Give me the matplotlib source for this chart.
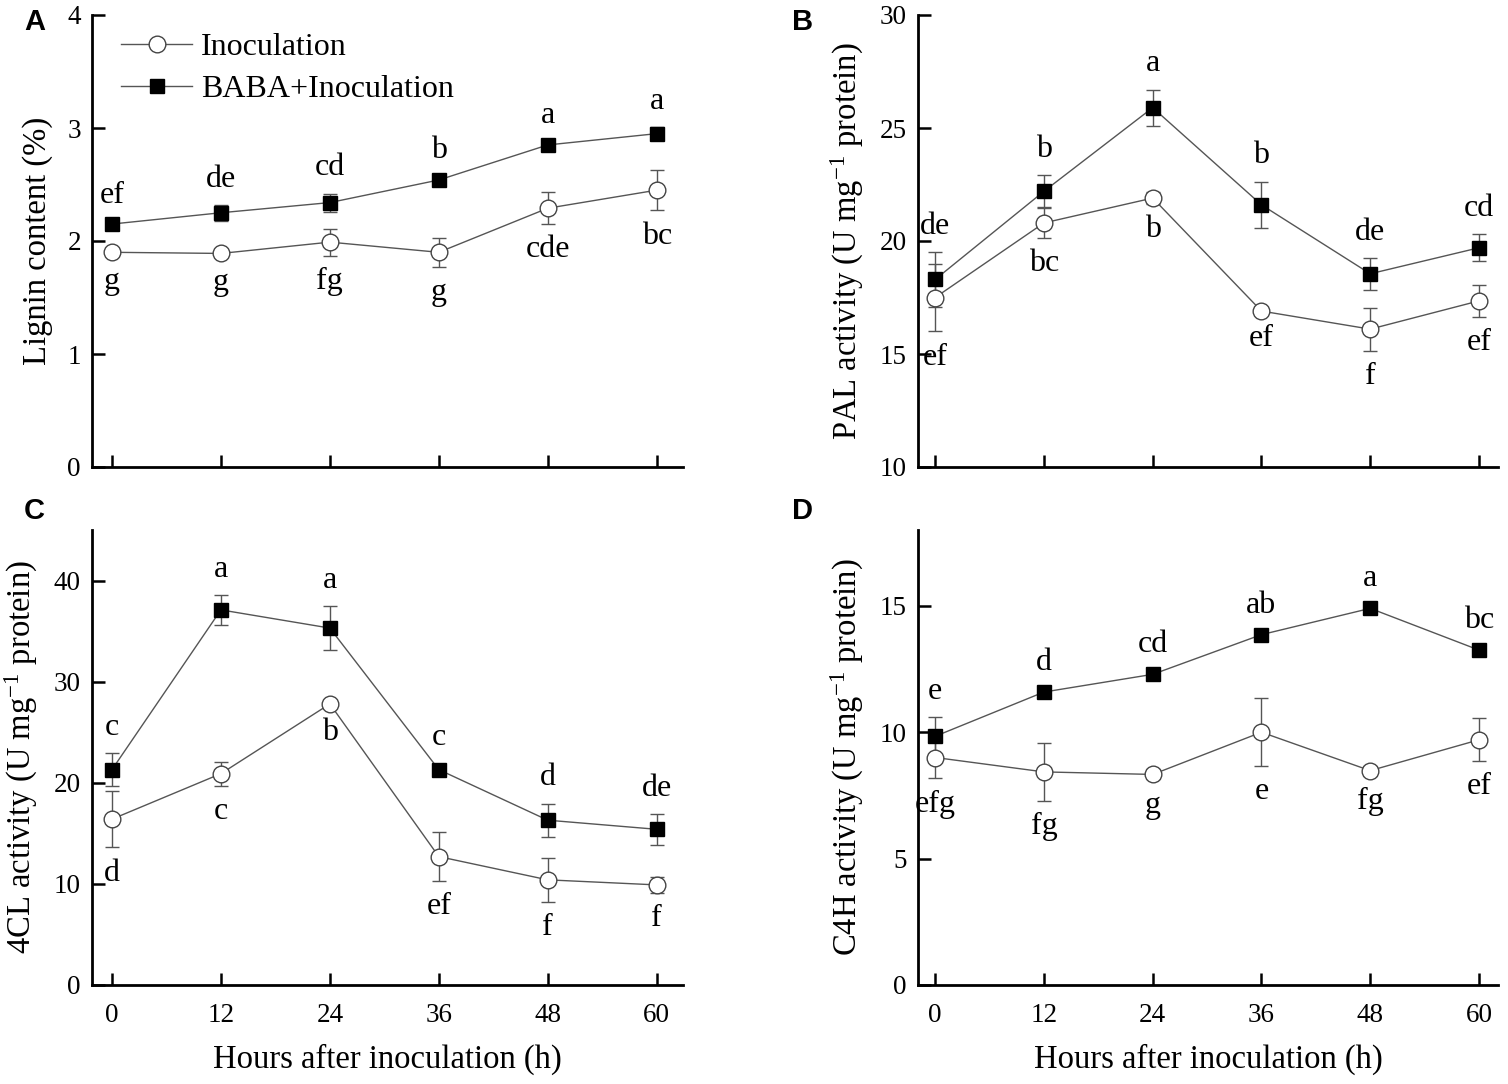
import numpy as np
import matplotlib
matplotlib.use('Agg')
import matplotlib.pyplot as plt
from matplotlib.lines import Line2D

plt.rcParams['font.family'] = ['Liberation Serif', 'DejaVu Serif']
plt.rcParams['mathtext.fontset'] = 'custom'
plt.rcParams['mathtext.rm'] = 'Liberation Serif'
plt.rcParams['mathtext.default'] = 'regular'

hours = [0, 12, 24, 36, 48, 60]

# panel A - lignin content (%)
lig_inoc = [1.90, 1.89, 1.99, 1.90, 2.29, 2.45]
lig_inoc_err = [0.03, 0.03, 0.12, 0.13, 0.14, 0.18]
lig_baba = [2.15, 2.25, 2.34, 2.54, 2.85, 2.95]
lig_baba_err = [0.03, 0.07, 0.08, 0.03, 0.03, 0.06]
lig_inoc_lab = ['g', 'g', 'fg', 'g', 'cde', 'bc']
lig_baba_lab = ['ef', 'de', 'cd', 'b', 'a', 'a']

# panel B - PAL activity
pal_inoc = [17.5, 20.8, 21.9, 16.9, 16.1, 17.35]
pal_inoc_err = [1.5, 0.66, 0.25, 0.1, 0.95, 0.7]
pal_baba = [18.3, 22.2, 25.9, 21.6, 18.55, 19.7]
pal_baba_err = [1.2, 0.7, 0.8, 1.03, 0.7, 0.6]
pal_inoc_lab = ['ef', 'bc', 'b', 'ef', 'f', 'ef']
pal_baba_lab = ['de', 'b', 'a', 'b', 'de', 'cd']

# panel C - 4CL activity
cl_inoc = [16.4, 20.9, 27.8, 12.7, 10.4, 9.9]
cl_inoc_err = [2.8, 1.2, 0.3, 2.4, 2.2, 0.8]
cl_baba = [21.3, 37.1, 35.3, 21.3, 16.3, 15.4]
cl_baba_err = [1.6, 1.5, 2.2, 0.6, 1.65, 1.55]
cl_inoc_lab = ['d', 'c', 'b', 'ef', 'f', 'f']
cl_baba_lab = ['c', 'a', 'a', 'c', 'd', 'de']

# panel D - C4H activity
c4h_inoc = [9.0, 8.43, 8.33, 10.0, 8.48, 9.7]
c4h_inoc_err = [0.83, 1.15, 0.2, 1.34, 0.2, 0.85]
c4h_baba = [9.84, 11.59, 12.29, 13.86, 14.9, 13.25]
c4h_baba_err = [0.75, 0.15, 0.15, 0.15, 0.15, 0.15]
c4h_inoc_lab = ['efg', 'fg', 'g', 'e', 'fg', 'ef']
c4h_baba_lab = ['e', 'd', 'cd', 'ab', 'a', 'bc']

W, H = 1508, 1084
fig = plt.figure(figsize=(W / 100, H / 100), dpi=100)

inoc_style = dict(color='#555555', lw=1.0, marker='o', ms=12, mfc='white', mec='#444444', mew=1.0)
baba_style = dict(color='#555555', lw=1.0, marker='s', ms=10, mfc='black', mec='black')


def make_ax(x0, x1, y0, y1):
    return fig.add_axes([x0 / W, 1 - y1 / H, (x1 - x0) / W, (y1 - y0) / H])


def panel(ax, inoc, inoc_err, baba, baba_err, inoc_lab, baba_lab, ylim, yticks, ylabel, xlim, bottom):
    ax.errorbar(hours, inoc, yerr=inoc_err, capsize=5, elinewidth=1.0, capthick=1.0,
                ecolor='#555555', zorder=3, **inoc_style)
    ax.errorbar(hours, baba, yerr=baba_err, capsize=5, elinewidth=1.0, capthick=1.0,
                ecolor='#555555', zorder=3, **baba_style)
    for x, m, e, t in zip(hours, baba, baba_err, baba_lab):
        ax.annotate(t, (x, m + e), xytext=(0, 8), textcoords='offset points',
                    ha='center', va='bottom', fontsize=23)
    for x, m, e, t in zip(hours, inoc, inoc_err, inoc_lab):
        ax.annotate(t, (x, m - e), xytext=(0, -8), textcoords='offset points',
                    ha='center', va='top', fontsize=23)
    ax.set_xlim(xlim)
    ax.set_ylim(ylim)
    ax.set_yticks(yticks)
    ax.set_xticks(hours)
    ax.spines['top'].set_visible(False)
    ax.spines['right'].set_visible(False)
    for s in ['left', 'bottom']:
        ax.spines[s].set_linewidth(2.0)
    ax.tick_params(direction='in', length=9, width=1.8, labelsize=19.5)
    ax.tick_params(axis='y', pad=8)
    ax.tick_params(axis='x', pad=13)
    ax.set_ylabel(ylabel, fontsize=23.5, labelpad=10)
    if bottom:
        ax.set_xlabel('Hours after inoculation (h)', fontsize=23.5, labelpad=11)
    else:
        ax.set_xticklabels([])


act = 'activity (U mg$^{-1}$ protein)'

axA = make_ax(92, 683, 15, 467)
panel(axA, lig_inoc, lig_inoc_err, lig_baba, lig_baba_err, lig_inoc_lab, lig_baba_lab,
      (0, 4), [0, 1, 2, 3, 4], 'Lignin content (%)', (-2.2, 62.9), False)
handles = [Line2D([], [], **inoc_style), Line2D([], [], **baba_style)]
axA.legend(handles, ['Inoculation', 'BABA+Inoculation'], loc='upper left',
           bbox_to_anchor=(0.02, 1.0), frameon=False, fontsize=23,
           handlelength=2.2, handletextpad=0.3, labelspacing=0.4, borderaxespad=0.15)

axB = make_ax(918, 1498, 15, 467)
panel(axB, pal_inoc, pal_inoc_err, pal_baba, pal_baba_err, pal_inoc_lab, pal_baba_lab,
      (10, 30), [10, 15, 20, 25, 30], 'PAL ' + act, (-1.9, 62.1), False)

axC = make_ax(92, 683, 530, 985)
panel(axC, cl_inoc, cl_inoc_err, cl_baba, cl_baba_err, cl_inoc_lab, cl_baba_lab,
      (0, 45), [0, 10, 20, 30, 40], '4CL ' + act, (-2.2, 62.9), True)

axD = make_ax(918, 1498, 530, 985)
panel(axD, c4h_inoc, c4h_inoc_err, c4h_baba, c4h_baba_err, c4h_inoc_lab, c4h_baba_lab,
      (0, 18), [0, 5, 10, 15], 'C4H ' + act, (-1.9, 62.1), True)

# panel letters
for letter, px, py in [('A', 24, 8), ('B', 792, 8), ('C', 24, 497), ('D', 792, 497)]:
    fig.text(px / W, 1 - py / H, letter, fontsize=21, fontweight='bold',
             family='Liberation Sans', ha='left', va='top')

fig.savefig('out.png', dpi=100)
